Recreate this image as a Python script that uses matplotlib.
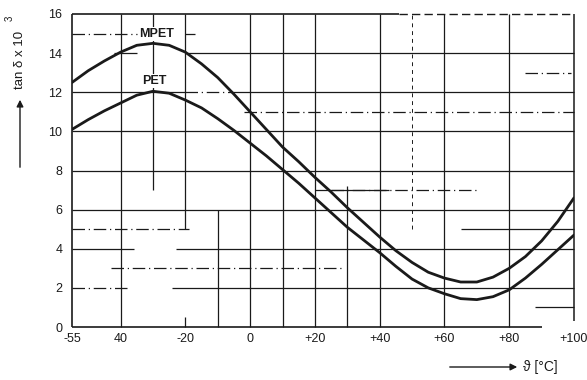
# tan delta vs temperature for MPET / PET film (datasheet-style chart)
import numpy as np
import matplotlib
matplotlib.use("Agg")
import matplotlib.pyplot as plt

plt.rcParams['font.family'] = ['Liberation Sans', 'DejaVu Sans']

# temperature in degC
temp = [-55, -50, -45, -40, -35, -30, -25, -20, -15, -10, -5, 0, 5, 10, 15, 20,
        25, 30, 35, 40, 45, 50, 55, 60, 65, 70, 75, 80, 85, 90, 95, 100]

# tan delta x 10^3
mpet = [12.5, 13.1, 13.6, 14.05, 14.4, 14.5, 14.4, 14.05, 13.45, 12.75, 11.9, 11.0,
        10.1, 9.2, 8.45, 7.65, 6.9, 6.1, 5.35, 4.6, 3.9, 3.3, 2.8, 2.5, 2.3, 2.3,
        2.55, 3.0, 3.6, 4.4, 5.4, 6.6]
pet = [10.1, 10.6, 11.05, 11.45, 11.85, 12.05, 11.95, 11.6, 11.2, 10.65, 10.05, 9.4,
       8.75, 8.05, 7.35, 6.6, 5.85, 5.1, 4.45, 3.8, 3.1, 2.45, 2.0, 1.7, 1.45, 1.4,
       1.55, 1.9, 2.5, 3.2, 3.95, 4.7]

xticks = [-55, -40, -20, 0, 20, 40, 60, 80, 100]
xticklabels = ["-55", "40", "-20", "0", "+20", "+40", "+60", "+80", "+100"]
yticks = [0, 2, 4, 6, 8, 10, 12, 14, 16]

W, H = 587, 380
fig = plt.figure(figsize=(W / 100, H / 100), dpi=100)
ax = fig.add_axes([72 / W, 1 - 327 / H, (574 - 72) / W, (327 - 14) / H])
ax.set_xlim(-55, 100)
ax.set_ylim(0, 16)

ink = '#1a1a1a'
lw_grid = 0.9

# scanned grid: solid pieces and broken (dash-dot) pieces
solid_h = [(14, -42, -35), (14, -20, 100), (12, -55, -20), (12, -6, 100),
           (10, -55, 100), (8, -55, 100), (7, 20, 43), (6, -55, 100),
           (5, 65, 100), (4, -55, -36), (4, -23, 100), (2, -24, 100), (1, 88, 100)]
dashdot_h = [(15, -55, -35), (15, -20, -17), (13, 85, 99), (12, -20, -6),
             (11, -2, 100), (7, 25, 70), (5, -55, -19), (3, -43, 28), (2, -55, -37)]
solid_v = [(-40, 0, 16), (-30, 7, 16), (-20, 5, 16), (-20, 0, 0.5), (-10, 0, 6),
           (0, 0, 16), (10, 0, 16), (20, 0, 16), (30, 0, 7.2), (40, 0, 16),
           (60, 0, 16), (80, 0, 16)]
dashed_v = [(50, 5, 16)]

for y, a, b in solid_h:
    ax.hlines(y, a, b, color=ink, lw=lw_grid, clip_on=False)
for y, a, b in dashdot_h:
    ax.hlines(y, a, b, color=ink, lw=lw_grid, linestyles=(0, (10, 3, 1, 3)), clip_on=False)
for x, a, b in solid_v:
    ax.vlines(x, a, b, color=ink, lw=lw_grid, clip_on=False)
for x, a, b in dashed_v:
    ax.vlines(x, a, b, color=ink, lw=0.7, linestyles=(0, (4, 4)), clip_on=False)

# frame (right/top parts are broken in the scan)
for s in ax.spines.values():
    s.set_visible(False)
ax.vlines(-55, 0, 16, color=ink, lw=1.2, clip_on=False)
ax.hlines(0, -55, 90, color=ink, lw=1.2, clip_on=False)
ax.hlines(16, -55, 46, color=ink, lw=1.2, clip_on=False)
ax.hlines(16, 46, 100, color=ink, lw=1.0, linestyles=(0, (6, 3)), clip_on=False)
ax.vlines(100, 0.3, 16, color=ink, lw=1.1, clip_on=False)

ax.plot(temp, mpet, color=ink, lw=2.0, solid_capstyle='round')
ax.plot(temp, pet, color=ink, lw=2.0, solid_capstyle='round')

ax.text(-29, 14.98, "MPET", fontsize=9, fontweight='bold', ha='center', va='center',
        color=ink, bbox=dict(facecolor='white', edgecolor='none', pad=0.5))
ax.text(-29.7, 12.58, "PET", fontsize=9, fontweight='bold', ha='center', va='center',
        color=ink, bbox=dict(facecolor='white', edgecolor='none', pad=0.5))

ax.set_xticks(xticks)
ax.set_xticklabels(xticklabels)
ax.set_yticks(yticks)
ax.tick_params(length=0, labelsize=9, colors=ink)
ax.tick_params(axis='y', pad=7)
ax.tick_params(axis='x', pad=4)

# axis captions with arrows (figure pixel coords)
def px(x, y):
    return (x / W, 1 - y / H)

fig.add_artist(matplotlib.patches.FancyArrowPatch(
    px(20, 170), px(20, 97), transform=fig.transFigure,
    arrowstyle='-|>,head_length=4,head_width=2', color=ink, lw=1.0))
fig.text(*px(20, 60), "tan δ x 10", rotation=90, fontsize=9.5, ha='center', va='center', color=ink)
fig.text(*px(10, 18), "3", rotation=90, fontsize=7, ha='center', va='center', color=ink)

fig.add_artist(matplotlib.patches.FancyArrowPatch(
    px(447, 367), px(520, 367), transform=fig.transFigure,
    arrowstyle='-|>,head_length=4,head_width=2', color=ink, lw=1.0))
fig.text(*px(523, 367), "ϑ [°C]", fontsize=10, ha='left', va='center', color=ink)

fig.savefig("out.png", dpi=100)
